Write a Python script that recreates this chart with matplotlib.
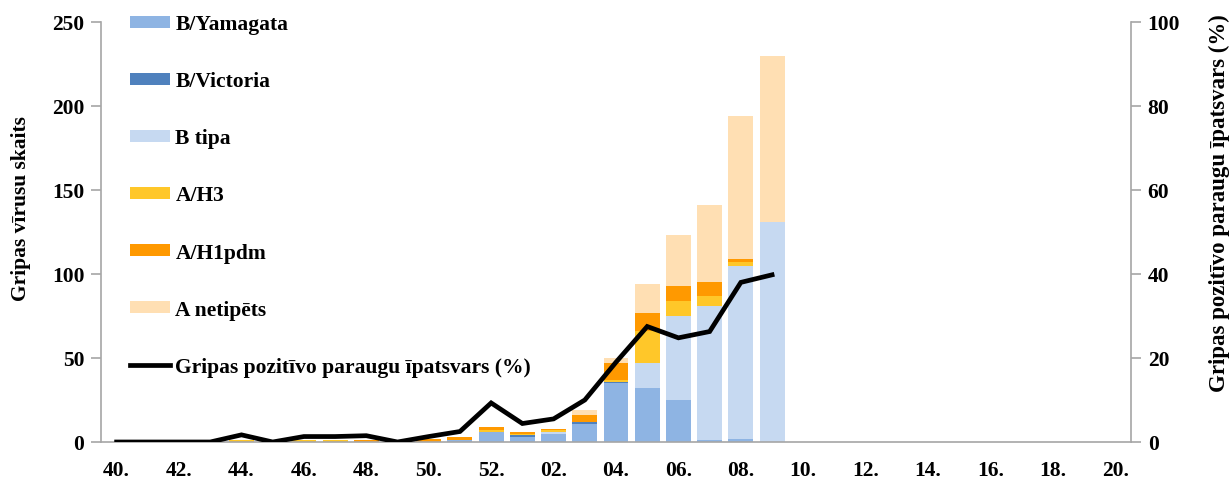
import numpy as np
import matplotlib.pyplot as plt
from matplotlib.patches import Patch
from matplotlib.lines import Line2D

plt.rcParams['font.family'] = ['Liberation Serif', 'DejaVu Serif']
plt.rcParams['font.weight'] = 'bold'

# weeks 40..52, then 01..20
weeks = [str(w) for w in range(40, 53)] + ["%02d" % w for w in range(1, 21)]

# virus counts per week (weeks 40 .. 09, later weeks empty)
b_yamagata = [0, 0, 0, 0, 0, 0, 0, 0, 0, 0, 0, 1, 6, 3, 5, 11, 35, 32, 25, 1, 2, 0]
b_victoria = [0, 0, 0, 0, 0, 0, 0, 0, 0, 0, 0, 0, 0, 1, 0, 1, 1, 0, 0, 0, 0, 0]
b_tipa = [0, 0, 0, 0, 0, 0, 0, 0, 0, 0, 0, 0, 0, 0, 1, 0, 0, 15, 50, 80, 103, 131]
a_h3 = [0, 0, 0, 0, 1, 0, 1, 1, 0, 0, 0, 0, 1, 1, 1, 0, 1, 19, 9, 6, 2, 0]
a_h1pdm = [0, 0, 0, 0, 0, 0, 0, 0, 1, 0, 2, 2, 2, 1, 1, 4, 10, 11, 9, 8, 2, 0]
a_netip = [0, 0, 0, 0, 0, 0, 0, 0, 0, 0, 0, 0, 0, 0, 0, 3, 3, 17, 30, 46, 85, 99]

# share of positive samples (%)
positive_pct = [0, 0, 0, 0, 1.7, 0, 1.3, 1.3, 1.5, 0, 1.3, 2.5, 9.3, 4.4, 5.5, 10,
                19, 27.5, 24.8, 26.3, 38, 39.8]

series = [
    ("B/Yamagata", b_yamagata, "#8EB4E3"),
    ("B/Victoria", b_victoria, "#4F81BD"),
    ("B tipa", b_tipa, "#C6D9F1"),
    ("A/H3", a_h3, "#FFC729"),
    ("A/H1pdm", a_h1pdm, "#FF9900"),
    ("A netipēts", a_netip, "#FFDFB3"),
]

n = len(weeks)
x = np.arange(n)

def pad(vals):
    return np.array(vals + [0] * (n - len(vals)), dtype=float)

fig = plt.figure(figsize=(12.32, 4.85), dpi=100)
ax = fig.add_axes([0.082, 0.0866, 0.836, 0.866])
ax2 = ax.twinx()

bottom = np.zeros(n)
handles = []
for label, vals, color in series:
    v = pad(vals)
    ax.bar(x, v, width=0.8, bottom=bottom, color=color, edgecolor='none', zorder=2)
    bottom += v
    handles.append(Patch(facecolor=color, label=label))

ax2.plot(x[:len(positive_pct)], positive_pct, color='black', lw=3.4,
         solid_joinstyle='miter', zorder=5)
handles.append(Line2D([], [], color='black', lw=3.4,
                      label="Gripas pozitīvo paraugu īpatsvars (%)"))

ax.set_xlim(-0.5, n - 0.5)
ax.set_ylim(0, 250)
ax.set_yticks(range(0, 251, 50))
ax2.set_ylim(0, 100)
ax2.set_yticks(range(0, 101, 20))

ax.set_xticks(x[::2])
ax.set_xticklabels([w + "." for w in weeks[::2]])

for a in (ax, ax2):
    a.spines['top'].set_visible(False)
    for s in ('left', 'right', 'bottom'):
        a.spines[s].set_color('#A6A6A6')
        a.spines[s].set_linewidth(1.2)
    a.tick_params(axis='y', colors='#A6A6A6', labelcolor='black', labelsize=15.5,
                  length=7, width=1.2, pad=5)
ax.tick_params(axis='x', length=0, labelsize=15.5, pad=13)
ax2.spines['left'].set_visible(False)
ax.spines['right'].set_visible(False)
ax2.spines['bottom'].set_visible(False)
ax2.set_zorder(ax.get_zorder() + 1)
ax2.patch.set_visible(False)

for lbl in ax.get_xticklabels() + ax.get_yticklabels() + ax2.get_yticklabels():
    lbl.set_fontweight('bold')

ax.set_ylabel("Gripas vīrusu skaits", fontsize=15.5, fontweight='bold')
ax.yaxis.set_label_coords(-0.068, 0.557)
ax2.set_ylabel("Gripas pozitīvo paraugu īpatsvars (%)", fontsize=16.5,
               fontweight='bold')
ax2.yaxis.set_label_coords(1.076, 0.571)

leg = ax.legend(handles=handles, loc='upper left', bbox_to_anchor=(0.0985, 0.986),
                bbox_transform=fig.transFigure, frameon=False, fontsize=15.5,
                labelspacing=1.72, handlelength=1.86, handleheight=0.47,
                handletextpad=0.25, borderaxespad=0)
for t in leg.get_texts():
    t.set_fontweight('bold')

fig.savefig("out.png", dpi=100)
